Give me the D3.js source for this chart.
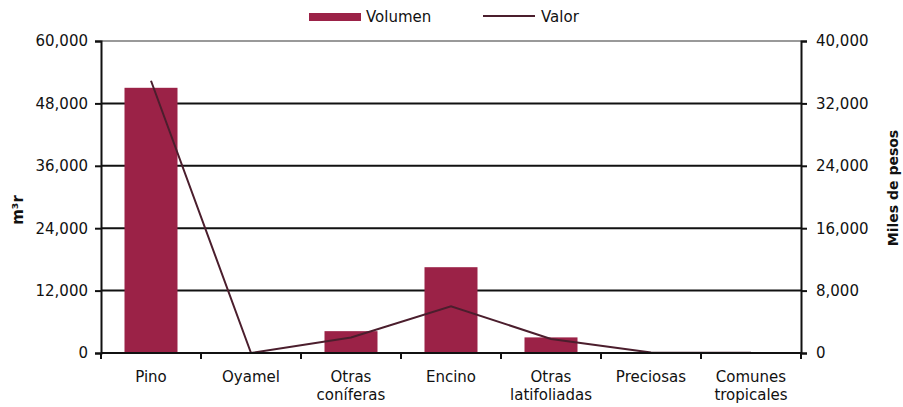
<!DOCTYPE html>
<html>
<head>
<meta charset="utf-8">
<script src="https://cdn.jsdelivr.net/npm/d3@7"></script>
<style>
  body { margin: 0; background: #fff; }
  svg text { font-family: "DejaVu Sans", sans-serif; fill: #111; }
</style>
</head>
<body>
<div id="chart"></div>
<script>
// data
var categories = ["Pino", "Oyamel", "Otras|coníferas", "Encino", "Otras|latifoliadas", "Preciosas", "Comunes|tropicales"];
var volumen = [51000, 0, 4200, 16500, 3000, 100, 100];
var valor = [34900, 0, 2000, 6000, 1800, 50, 30];
var leftTicks = [0, 12000, 24000, 36000, 48000, 60000];
var rightTicks = [0, 8000, 16000, 24000, 32000, 40000];

var width = 903, height = 407;
var margin = { top: 41, right: 102, bottom: 54, left: 101 };
var barColor = "#9b2247", lineColor = "#4b1e2d";

var svg = d3.select("#chart").append("svg")
  .attr("width", width).attr("height", height);

var x = d3.scaleBand().domain(categories)
  .range([margin.left, width - margin.right]).paddingInner(0.47).paddingOuter(0.235);
var yL = d3.scaleLinear().domain([0, 60000]).range([height - margin.bottom, margin.top]);
var yR = d3.scaleLinear().domain([0, 40000]).range([height - margin.bottom, margin.top]);
var fmt = d3.format(",");

// gridlines
svg.append("g").selectAll("line").data(leftTicks.slice(1)).enter().append("line")
  .attr("x1", margin.left).attr("x2", width - margin.right)
  .attr("y1", d => yL(d)).attr("y2", d => yL(d))
  .attr("stroke", d => d === 60000 ? "#999" : "#111").attr("stroke-width", 2);

// bars
svg.append("g").selectAll("rect").data(volumen).enter().append("rect")
  .attr("x", (d, i) => x(categories[i]))
  .attr("width", x.bandwidth())
  .attr("y", d => yL(d))
  .attr("height", d => yL(0) - yL(d))
  .attr("fill", barColor);

// line
var line = d3.line()
  .x((d, i) => x(categories[i]) + x.bandwidth() / 2)
  .y(d => yR(d));
svg.append("path").datum(valor)
  .attr("d", line).attr("fill", "none")
  .attr("stroke", lineColor).attr("stroke-width", 2);

// left axis
var gL = svg.append("g").attr("transform", "translate(" + margin.left + ",0)")
  .call(d3.axisLeft(yL).tickValues(leftTicks).tickFormat(fmt).tickSize(6).tickPadding(7));
// right axis
var gR = svg.append("g").attr("transform", "translate(" + (width - margin.right) + ",0)")
  .call(d3.axisRight(yR).tickValues(rightTicks).tickFormat(fmt).tickSize(6).tickPadding(9));

[gL, gR].forEach(function (g) {
  g.select(".domain").attr("stroke", "#111").attr("stroke-width", 2);
  g.selectAll(".tick line").attr("stroke", "#111").attr("stroke-width", 2);
  g.selectAll(".tick text").attr("font-size", 15).attr("fill", "#111");
});

// x axis
var xBase = yL(0);
var bounds = d3.range(categories.length + 1).map(i => margin.left + i * x.step());
svg.append("line").attr("x1", margin.left).attr("x2", width - margin.right)
  .attr("y1", xBase).attr("y2", xBase).attr("stroke", "#111").attr("stroke-width", 2);
svg.append("g").selectAll("line").data(bounds).enter().append("line")
  .attr("x1", d => d).attr("x2", d => d)
  .attr("y1", xBase).attr("y2", xBase + 6)
  .attr("stroke", "#111").attr("stroke-width", 2);

var xl = svg.append("g").selectAll("text").data(categories).enter().append("text")
  .attr("x", d => x(d) + x.bandwidth() / 2)
  .attr("y", 382)
  .attr("text-anchor", "middle")
  .attr("font-size", 15);
xl.each(function (d) {
  var parts = d.split("|");
  var t = d3.select(this);
  parts.forEach(function (p, j) {
    t.append("tspan").attr("x", t.attr("x")).attr("dy", j === 0 ? 0 : 18).text(p);
  });
});

// axis titles
svg.append("text")
  .attr("transform", "translate(23," + (yL(27500)) + ") rotate(-90)")
  .attr("text-anchor", "middle").attr("font-size", 15).attr("font-weight", "bold")
  .text("m³r");
svg.append("text")
  .attr("transform", "translate(898," + 188 + ") rotate(-90)")
  .attr("text-anchor", "middle").attr("font-size", 14).attr("font-weight", "bold")
  .text("Miles de pesos");

// legend
var lg = svg.append("g");
lg.append("rect").attr("x", 309).attr("y", 13).attr("width", 52).attr("height", 8).attr("fill", barColor);
lg.append("text").attr("x", 366).attr("y", 22).attr("font-size", 15).text("Volumen");
lg.append("line").attr("x1", 483).attr("x2", 535).attr("y1", 16).attr("y2", 16)
  .attr("stroke", lineColor).attr("stroke-width", 2);
lg.append("text").attr("x", 541).attr("y", 22).attr("font-size", 15).text("Valor");
</script>
</body>
</html>
